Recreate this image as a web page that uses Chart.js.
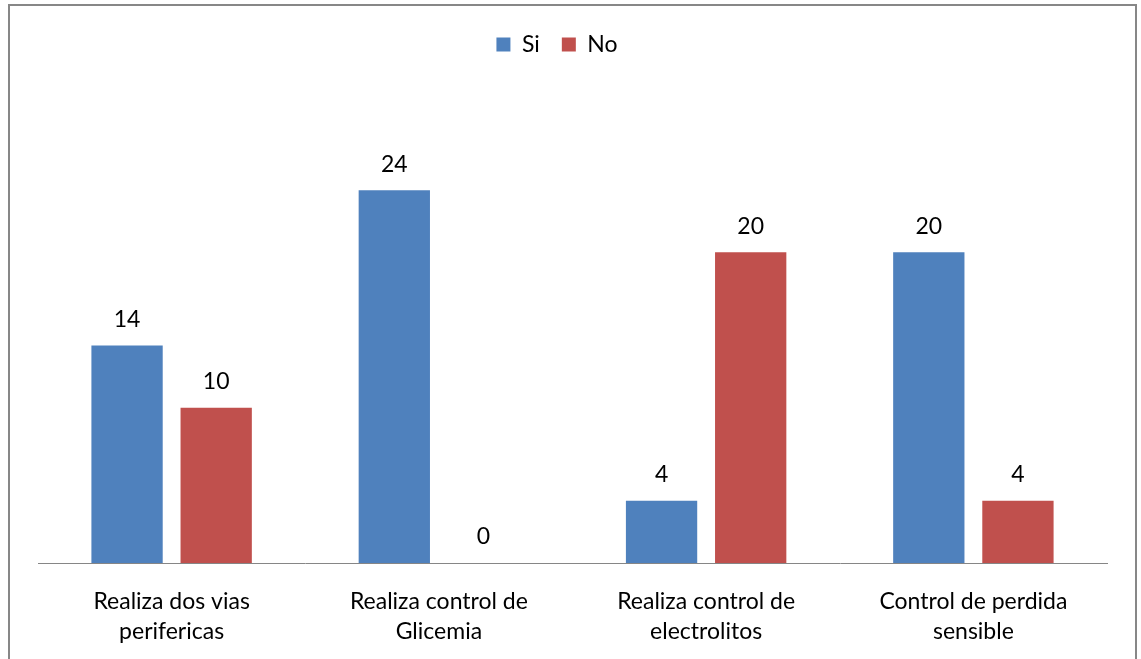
<!DOCTYPE html>
<html>
<head>
<meta charset="utf-8">
<script src="https://cdn.jsdelivr.net/npm/chart.js@4/dist/chart.umd.min.js"></script>
<style>
  html, body { margin: 0; padding: 0; background: #ffffff; }
  #wrap { position: relative; width: 1141px; height: 659px; overflow: hidden; }
  #frame {
    position: absolute; left: 8px; top: 4px; width: 1129px; height: 700px;
    box-sizing: border-box; border: 2px solid #878787; border-bottom: none;
  }
  #chart { position: absolute; left: 0; top: 0; }
</style>
</head>
<body>
<div id="wrap">
  <div id="frame"></div>
  <canvas id="chart" width="1141" height="659"></canvas>
</div>
<script>
// Categories (two-line labels) and the two answer series
const categories = [
  ['Realiza dos vias', 'perifericas'],
  ['Realiza control de', 'Glicemia'],
  ['Realiza control de', 'electrolitos'],
  ['Control de perdida', 'sensible']
];
const seriesNames = ['Si', 'No'];
const siValues = [14, 24, 4, 20];
const noValues = [10, 0, 20, 4];
const yMin = 0;
const yMax = 30;

const FONT = 'Lato, Carlito, Calibri, "Open Sans", sans-serif';
const FONT_SIZE = 23;
Chart.defaults.font.family = FONT;
Chart.defaults.color = '#000000';

// Writes each bar's value above it
const valueLabels = {
  id: 'valueLabels',
  afterDatasetsDraw(chart) {
    const ctx = chart.ctx;
    ctx.save();
    ctx.font = FONT_SIZE + 'px ' + FONT;
    ctx.fillStyle = '#000000';
    ctx.textAlign = 'center';
    ctx.textBaseline = 'middle';
    chart.data.datasets.forEach((ds, i) => {
      const meta = chart.getDatasetMeta(i);
      meta.data.forEach((bar, j) => {
        ctx.fillText(String(ds.data[j]), bar.x, bar.y - 26);
      });
    });
    ctx.restore();
  }
};

new Chart(document.getElementById('chart'), {
  type: 'bar',
  data: {
    labels: categories,
    datasets: [
      { label: seriesNames[0], data: siValues, backgroundColor: '#4F81BD', borderWidth: 0 },
      { label: seriesNames[1], data: noValues, backgroundColor: '#C0504D', borderWidth: 0 }
    ]
  },
  options: {
    responsive: false,
    animation: false,
    devicePixelRatio: 1,
    layout: { padding: { left: 7, right: 34, top: 11, bottom: 0 } },
    datasets: { bar: { categoryPercentage: 0.667, barPercentage: 0.8 } },
    plugins: {
      legend: {
        position: 'top',
        labels: {
          boxWidth: 14,
          boxHeight: 14,
          padding: 22,
          color: '#000000',
          font: { size: FONT_SIZE, family: FONT }
        }
      },
      tooltip: { enabled: false }
    },
    scales: {
      x: {
        position: 'bottom',
        grid: { display: false },
        border: { display: true, color: '#868686', width: 1 },
        ticks: {
          color: '#000000',
          padding: 16,
          maxRotation: 0,
          autoSkip: false,
          font: { size: FONT_SIZE, family: FONT, lineHeight: 1.3 }
        },
        afterFit(scale) { scale.height = 96; }
      },
      xTop: {
        position: 'top',
        display: true,
        grid: { display: false },
        border: { display: false },
        ticks: { display: false },
        afterFit(scale) { scale.height = 31; }
      },
      y: {
        display: true,
        min: yMin,
        max: yMax,
        grid: { display: false },
        border: { display: false },
        ticks: { display: false },
        afterFit(scale) { scale.width = 31; }
      }
    }
  },
  plugins: [valueLabels]
});
</script>
</body>
</html>
